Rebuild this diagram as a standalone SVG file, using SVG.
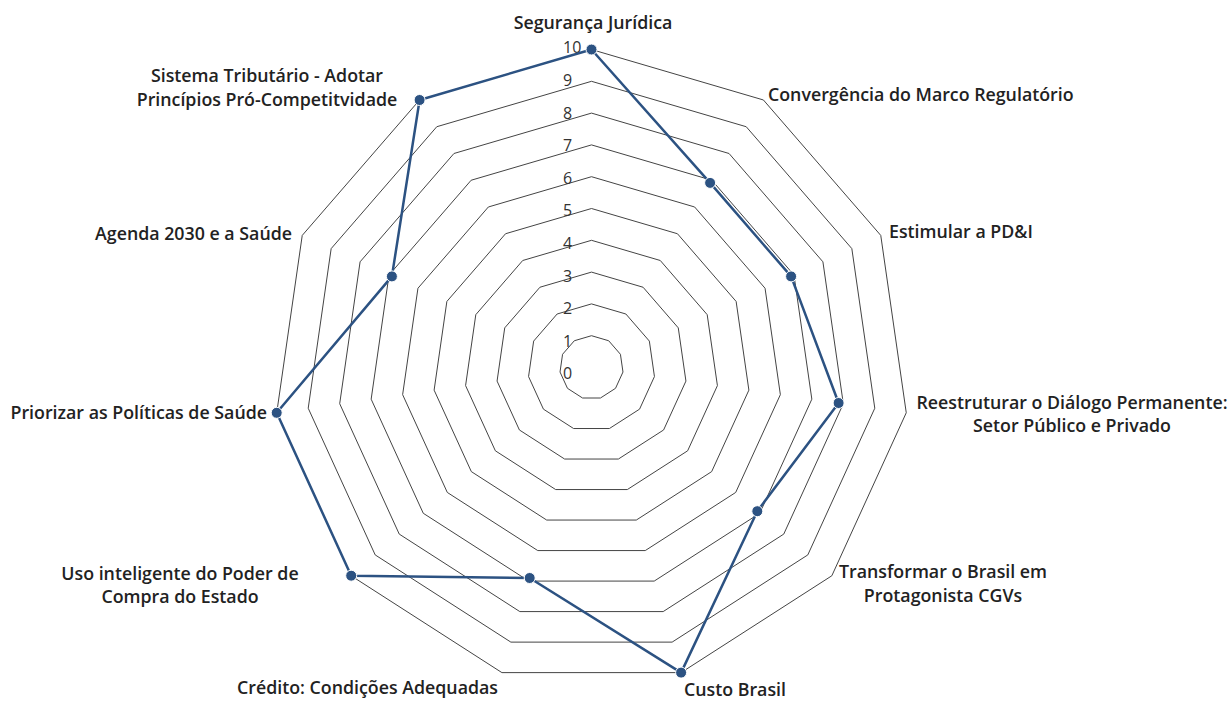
<svg xmlns="http://www.w3.org/2000/svg" width="1231" height="701" viewBox="0 0 1231 701">
<defs>
<style>
.grid{fill:none;stroke:#444;stroke-width:1}
.tick{font-family:"Open Sans","Liberation Sans",sans-serif;font-size:16px;fill:#333}
.lbl{font-family:"Open Sans","Liberation Sans",sans-serif;font-size:17.8px;font-weight:600;fill:#222}
.series{fill:none;stroke:#2c5282;stroke-width:2.5;stroke-linejoin:round}
.pt{fill:#2c5282;stroke:#fff;stroke-width:1}
</style>
</defs>
<rect width="1231" height="701" fill="#fff"/>
<g id="grid">
<polygon class="grid" points="591.5,335.7 608.69,340.75 620.43,354.29 622.98,372.03 615.53,388.32 600.46,398.01 582.54,398.01 567.47,388.32 560.02,372.03 562.57,354.29 574.31,340.75"/>
<polygon class="grid" points="591.5,303.9 625.88,314 649.35,341.08 654.45,376.55 639.57,409.15 609.42,428.52 573.58,428.52 543.43,409.15 528.55,376.55 533.65,341.08 557.12,314"/>
<polygon class="grid" points="591.5,272.1 643.08,287.24 678.28,327.87 685.93,381.08 663.6,429.97 618.38,459.04 564.62,459.04 519.4,429.97 497.07,381.08 504.72,327.87 539.92,287.24"/>
<polygon class="grid" points="591.5,240.3 660.27,260.49 707.2,314.66 717.41,385.6 687.63,450.8 627.34,489.55 555.66,489.55 495.37,450.8 465.59,385.6 475.8,314.66 522.73,260.49"/>
<polygon class="grid" points="591.5,208.5 677.46,233.74 736.13,301.45 748.88,390.13 711.66,471.62 636.3,520.06 546.7,520.06 471.34,471.62 434.12,390.13 446.87,301.45 505.54,233.74"/>
<polygon class="grid" points="591.5,176.7 694.65,206.99 765.06,288.24 780.36,394.65 735.7,492.45 645.25,550.57 537.75,550.57 447.3,492.45 402.64,394.65 417.94,288.24 488.35,206.99"/>
<polygon class="grid" points="591.5,144.9 711.85,180.24 793.98,275.03 811.83,399.18 759.73,513.27 654.21,581.08 528.79,581.08 423.27,513.27 371.17,399.18 389.02,275.03 471.15,180.24"/>
<polygon class="grid" points="591.5,113.1 729.04,153.49 822.91,261.82 843.31,403.7 783.76,534.1 663.17,611.59 519.83,611.59 399.24,534.1 339.69,403.7 360.09,261.82 453.96,153.49"/>
<polygon class="grid" points="591.5,81.3 746.23,126.73 851.84,248.61 874.79,408.23 807.8,554.92 672.13,642.11 510.87,642.11 375.2,554.92 308.21,408.23 331.16,248.61 436.77,126.73"/>
<polygon class="grid" points="591.5,49.5 763.42,99.98 880.76,235.4 906.26,412.75 831.83,575.75 681.09,672.62 501.91,672.62 351.17,575.75 276.74,412.75 302.24,235.4 419.58,99.98"/>
</g>
<g id="ticks" class="tick">
<text x="563" y="379.3">0</text>
<text x="563" y="346.7">1</text>
<text x="563" y="314.1">2</text>
<text x="563" y="281.5">3</text>
<text x="563" y="248.9">4</text>
<text x="563" y="216.3">5</text>
<text x="563" y="183.7">6</text>
<text x="563" y="151.1">7</text>
<text x="563" y="118.5">8</text>
<text x="563" y="85.9">9</text>
<text x="563" y="53.3">10</text>
</g>
<g id="series">
<polygon class="series" points="591.5,49.5 710.1,182.9 791.1,276.4 838.6,403 757.3,511.2 681.1,672.6 529.7,578 351.2,575.7 276.7,412.8 391.9,276.4 419.6,100"/>
<circle class="pt" cx="591.5" cy="49.5" r="5.5"/>
<circle class="pt" cx="710.1" cy="182.9" r="5.5"/>
<circle class="pt" cx="791.1" cy="276.4" r="5.5"/>
<circle class="pt" cx="838.6" cy="403" r="5.5"/>
<circle class="pt" cx="757.3" cy="511.2" r="5.5"/>
<circle class="pt" cx="681.1" cy="672.6" r="5.5"/>
<circle class="pt" cx="529.7" cy="578" r="5.5"/>
<circle class="pt" cx="351.2" cy="575.7" r="5.5"/>
<circle class="pt" cx="276.7" cy="412.8" r="5.5"/>
<circle class="pt" cx="391.9" cy="276.4" r="5.5"/>
<circle class="pt" cx="419.6" cy="100" r="5.5"/>
</g>
<g id="label-seguranca" class="lbl"><text x="593" y="29" text-anchor="middle">Segurança Jurídica</text></g>
<g id="label-convergencia" class="lbl"><text x="768" y="101">Convergência do Marco Regulatório</text></g>
<g id="label-pdi" class="lbl"><text x="889" y="238">Estimular a PD&amp;I</text></g>
<g id="label-dialogo" class="lbl" text-anchor="middle"><text x="1072" y="409">Reestruturar o Diálogo Permanente:</text><text x="1072" y="432">Setor Público e Privado</text></g>
<g id="label-cgvs" class="lbl" text-anchor="middle"><text x="943" y="578">Transformar o Brasil em</text><text x="943" y="602">Protagonista CGVs</text></g>
<g id="label-custo" class="lbl"><text x="735" y="696" text-anchor="middle">Custo Brasil</text></g>
<g id="label-credito" class="lbl"><text x="498" y="694" text-anchor="end">Crédito: Condições Adequadas</text></g>
<g id="label-compra" class="lbl" text-anchor="middle"><text x="180" y="580">Uso inteligente do Poder de</text><text x="180" y="603">Compra do Estado</text></g>
<g id="label-politicas" class="lbl"><text x="267" y="419" text-anchor="end">Priorizar as Políticas de Saúde</text></g>
<g id="label-agenda" class="lbl"><text x="292" y="240" text-anchor="end">Agenda 2030 e a Saúde</text></g>
<g id="label-tributario" class="lbl" text-anchor="middle"><text x="267" y="82">Sistema Tributário - Adotar</text><text x="267" y="106">Princípios Pró-Competitvidade</text></g>
</svg>
